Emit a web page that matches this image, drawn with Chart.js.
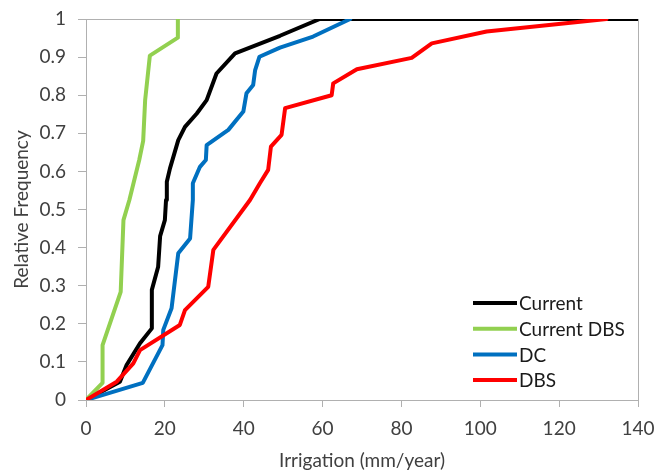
<!DOCTYPE html>
<html>
<head>
<meta charset="utf-8">
<script src="https://cdn.jsdelivr.net/npm/chart.js@4/dist/chart.umd.min.js"></script>
<style>
  html, body { margin: 0; padding: 0; background: #fff; }
  canvas { display: block; }
</style>
</head>
<body>
<canvas id="chart" width="654" height="471"></canvas>
<script>
// series values (x = irrigation mm/year, y = relative frequency)
const currentX = [0, 8.6, 10.3, 13.7, 16.7, 16.7, 18.3, 18.8, 20.0, 20.3, 20.5, 21.3, 23.4, 25.1, 28.1, 30.6, 33.1, 37.8, 49.2, 59.3, 140];
const currentY = [0, 0.048, 0.092, 0.149, 0.188, 0.289, 0.35, 0.43, 0.472, 0.525, 0.573, 0.608, 0.682, 0.717, 0.752, 0.787, 0.857, 0.91, 0.956, 1, 1];

const currentDbsX = [0, 4.2, 4.2, 8.8, 9.5, 11.0, 13.5, 14.5, 15.0, 16.2, 23.3, 23.3];
const currentDbsY = [0, 0.045, 0.144, 0.284, 0.472, 0.525, 0.63, 0.68, 0.787, 0.904, 0.951, 1];

const dcX = [0, 14.4, 19.4, 19.6, 21.7, 23.4, 26.4, 27.1, 27.1, 28.9, 30.4, 30.6, 36.1, 39.9, 40.7, 42.4, 42.9, 44.0, 49.2, 57.6, 67.0];
const dcY = [0, 0.045, 0.144, 0.184, 0.241, 0.385, 0.424, 0.525, 0.569, 0.612, 0.63, 0.669, 0.709, 0.757, 0.805, 0.827, 0.866, 0.901, 0.925, 0.954, 1];

const dbsX = [0, 7.8, 12.0, 13.7, 23.8, 25.1, 31.0, 32.3, 41.6, 44.1, 46.2, 46.9, 49.6, 50.5, 62.3, 62.7, 68.7, 82.6, 87.7, 101.6, 132];
const dbsY = [0, 0.048, 0.096, 0.131, 0.197, 0.236, 0.297, 0.394, 0.525, 0.569, 0.604, 0.665, 0.696, 0.766, 0.80, 0.831, 0.868, 0.898, 0.936, 0.967, 1];

const seriesLabels = ["Current", "Current DBS", "DC", "DBS"];
const seriesColors = ["#000000", "#92d050", "#0070c0", "#ff0000"];

const xTicks = [0, 20, 40, 60, 80, 100, 120, 140];
const yTicks = [0, 0.1, 0.2, 0.3, 0.4, 0.5, 0.6, 0.7, 0.8, 0.9, 1];

const toPoints = (xs, ys) => xs.map((x, i) => ({ x: x, y: ys[i] }));
const seriesPoints = [
    toPoints(currentX, currentY),
    toPoints(currentDbsX, currentDbsY),
    toPoints(dcX, dcY),
    toPoints(dbsX, dbsY),
];

const FONT = "Lato, 'Open Sans', sans-serif";
const FONT_SIZE = 19;
const AXIS_GRAY = "#b0b0b0";
const TEXT_GRAY = "#404040";

// gray box round the plot area
const frame = {
    id: "frame",
    beforeDatasetsDraw(chart) {
        const a = chart.chartArea;
        const ctx = chart.ctx;
        ctx.save();
        ctx.strokeStyle = AXIS_GRAY;
        ctx.lineWidth = 1;
        ctx.strokeRect(Math.round(a.left) + 0.5, Math.round(a.top) + 0.5,
            Math.round(a.right - a.left), Math.round(a.bottom - a.top));
        ctx.restore();
    },
};

// legend inside the plot, bottom right
const innerLegend = {
    id: "innerLegend",
    afterDatasetsDraw(chart) {
        const ctx = chart.ctx;
        const x0 = 473, lineLen = 44, y0 = 303, rowH = 25.7;
        ctx.save();
        ctx.font = FONT_SIZE + "px " + FONT;
        ctx.textBaseline = "middle";
        ctx.textAlign = "left";
        chart.data.datasets.forEach((ds, i) => {
            const y = y0 + i * rowH;
            ctx.strokeStyle = ds.borderColor;
            ctx.lineWidth = 4;
            ctx.beginPath();
            ctx.moveTo(x0, y);
            ctx.lineTo(x0 + lineLen, y);
            ctx.stroke();
            ctx.fillStyle = "#1a1a1a";
            ctx.fillText(ds.label, x0 + lineLen + 2, y + 1);
        });
        ctx.restore();
    },
};

const ctx = document.getElementById("chart").getContext("2d");
new Chart(ctx, {
    type: "scatter",
    data: {
        datasets: seriesPoints.map((pts, i) => ({
            label: seriesLabels[i],
            data: pts,
            showLine: true,
            borderColor: seriesColors[i],
            backgroundColor: seriesColors[i],
            borderWidth: 4,
            borderJoinStyle: "round",
            borderCapStyle: "round",
            pointRadius: 0,
            pointHoverRadius: 0,
            tension: 0,
            order: seriesLabels.length - i,
        })),
    },
    options: {
        responsive: false,
        animation: false,
        layout: { padding: { top: 19, right: 16, left: 0, bottom: 0 } },
        plugins: {
            legend: { display: false },
            tooltip: { enabled: false },
        },
        scales: {
            x: {
                type: "linear",
                min: 0,
                max: 140,
                afterBuildTicks: (scale) => { scale.ticks = xTicks.map((v) => ({ value: v })); },
                afterFit: (scale) => {
                    scale.height = 71;
                    scale.paddingLeft = 0;
                    scale.paddingRight = 0;
                },
                grid: { drawOnChartArea: false, drawTicks: true, tickLength: 7, color: AXIS_GRAY },
                border: { color: AXIS_GRAY },
                ticks: { color: TEXT_GRAY, font: { family: FONT, size: FONT_SIZE }, padding: 10, maxRotation: 0 },
                title: {
                    display: true,
                    text: "Irrigation (mm/year)",
                    color: TEXT_GRAY,
                    font: { family: FONT, size: FONT_SIZE },
                    padding: { top: 0, bottom: -1.4 },
                },
            },
            y: {
                type: "linear",
                min: 0,
                max: 1,
                afterBuildTicks: (scale) => { scale.ticks = yTicks.map((v) => ({ value: v })); },
                afterFit: (scale) => {
                    scale.width = 86;
                    scale.paddingTop = 0;
                    scale.paddingBottom = 0;
                },
                grid: { drawOnChartArea: false, drawTicks: true, tickLength: 8, color: AXIS_GRAY },
                border: { color: AXIS_GRAY },
                ticks: {
                    color: TEXT_GRAY,
                    font: { family: FONT, size: FONT_SIZE },
                    padding: 12,
                    callback: (v) => String(v),
                },
                title: {
                    display: true,
                    text: "Relative Frequency",
                    color: TEXT_GRAY,
                    font: { family: FONT, size: FONT_SIZE },
                    padding: { top: 10.6, bottom: 0 },
                },
            },
        },
    },
    plugins: [frame, innerLegend],
});
</script>
</body>
</html>
